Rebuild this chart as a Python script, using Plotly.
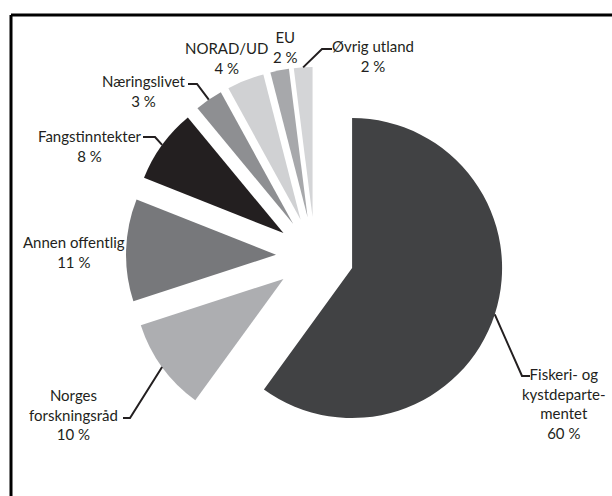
import math
import plotly.graph_objects as go

# ---- data ----
categories = ["Fiskeri- og kystdepartementet", "Norges forskningsråd", "Annen offentlig",
              "Fangstinntekter", "Næringslivet", "NORAD/UD", "EU", "Øvrig utland"]
label_text = ["Fiskeri- og<br>kystdeparte-<br>mentet", "Norges<br>forskningsråd", "Annen offentlig",
              "Fangstinntekter", "Næringslivet", "NORAD/UD", "EU", "Øvrig utland"]
values = [60, 10, 11, 8, 3, 4, 2, 2]
colors = ["#414244", "#adaeb1", "#77787b", "#231f20", "#8e8f92", "#d0d1d3", "#a7a8ab", "#d4d5d7"]

W, H = 612, 496
PULL = 0.26
# pie box in pixels (layout)
BOX_X0, BOX_X1 = 126, 504
BOX_Y0, BOX_Y1 = 67, 445

def px(x):
    return x / W

def py(y):
    return 1 - y / H

fig = go.Figure(go.Pie(
    labels=categories,
    values=values,
    sort=False,
    direction="clockwise",
    rotation=0,
    pull=[PULL] * len(values),
    marker=dict(colors=colors, line=dict(width=0)),
    textinfo="none",
    hoverinfo="label+percent",
    showlegend=False,
    domain=dict(x=[px(BOX_X0), px(BOX_X1)], y=[py(BOX_Y1), py(BOX_Y0)]),
))

# geometry as plotly computes it
cx = (BOX_X0 + BOX_X1) / 2
cy = (BOX_Y0 + BOX_Y1) / 2
r = min(BOX_X1 - BOX_X0, BOX_Y1 - BOX_Y0) / 2 / (1 + PULL)

total = sum(values)
mids = []
cum = 0
for v in values:
    mids.append(math.radians(360 * (cum + v / 2) / total))
    cum += v

def outer_point(i):
    t = mids[i]
    d = r * (1 + PULL)
    return cx + d * math.sin(t), cy - d * math.cos(t)

# label block centres (layout) and leader elbows (layout)
label_pos = {
    0: (564, 403),
    1: (73, 414),
    2: (74, 252.5),
    3: (90, 146),
    4: (143.5, 91),
    5: (226, 58.5),
    6: (285, 47),
    7: (373, 56),
}
leader_elbows = {
    0: [(522, 376), (530, 376)],
    1: [(130, 418), (123, 418)],
    3: [(155, 137), (143, 137)],
    4: [(197, 84), (188, 84)],
    7: [(322, 49), (332, 49)],
}

txt_color = "#231f20"
font = dict(family="Lato, 'Open Sans', sans-serif", size=15, color=txt_color)

annotations = []
for i, name in enumerate(label_text):
    x, y = label_pos[i]
    annotations.append(dict(
        x=px(x), y=py(y), xref="paper", yref="paper",
        text=f"{name}<br>{values[i]} %", showarrow=False,
        xanchor="center", yanchor="middle", align="center", font=font,
    ))

shapes = []
for i, pts in leader_elbows.items():
    sx, sy = outer_point(i)
    path = f"M {px(sx)} {py(sy)}"
    for (ex, ey) in pts:
        path += f" L {px(ex)} {py(ey)}"
    shapes.append(dict(type="path", path=path, xref="paper", yref="paper",
                       line=dict(color="#231f20", width=2)))

# frame (top and left lines)
shapes.append(dict(type="line", xref="paper", yref="paper",
                   x0=px(11), y0=py(15), x1=1, y1=py(15), line=dict(color="black", width=3)))
shapes.append(dict(type="line", xref="paper", yref="paper",
                   x0=px(11), y0=py(15), x1=px(11), y1=0, line=dict(color="black", width=3)))

fig.update_layout(
    width=W, height=H,
    margin=dict(l=0, r=0, t=0, b=0),
    paper_bgcolor="white", plot_bgcolor="white",
    annotations=annotations, shapes=shapes,
)

fig.write_html("out.html", config={"displayModeBar": False},
               post_script="document.body.style.margin='0';document.body.style.overflow='hidden';")
